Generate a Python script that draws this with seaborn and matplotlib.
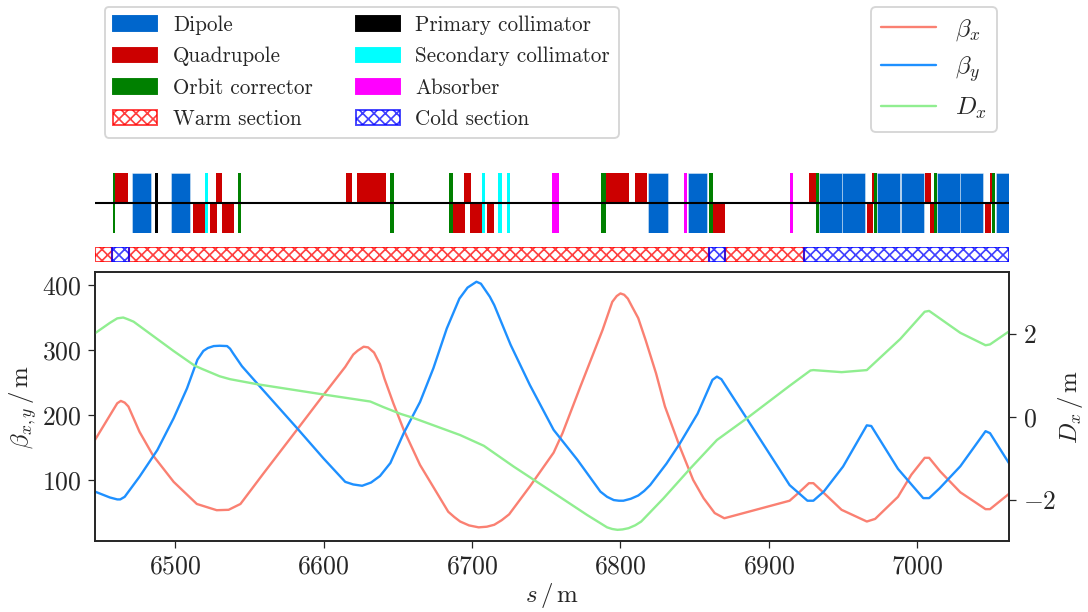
import numpy as np
import seaborn as sns
import matplotlib
matplotlib.use("Agg")
import matplotlib.pyplot as plt
from matplotlib.patches import Patch
from matplotlib.lines import Line2D

# optics
s_bx = [6446, 6461, 6463.4, 6466, 6468.5, 6476, 6485, 6499, 6514.6, 6528, 6536, 6544, 6559.5, 6582, 6600, 6614.6,
        6616, 6620, 6623, 6627, 6630, 6634, 6638, 6641, 6647, 6654, 6665, 6684, 6688, 6692, 6698, 6704.5, 6710,
        6715, 6720, 6725, 6739, 6755, 6761,
        6773, 6788, 6794.5, 6797.5, 6800, 6802.5, 6805, 6808, 6812, 6817, 6824, 6830, 6840, 6849, 6856, 6863.5, 6870, 6914,
        6920, 6927, 6930, 6937, 6949, 6966, 6971.6, 6987, 6996, 7005, 7008, 7015.5, 7029, 7046, 7049, 7062]
beta_x = [161.6, 218, 221.6, 219, 213, 174, 138, 97, 63, 53.4, 54, 63, 110, 177, 231, 274,
          279, 293, 299, 305, 304, 296, 278, 256, 218, 177, 123, 51, 43, 36, 30, 27, 28,
          31, 38, 47, 90, 142, 172,
          243.5, 331, 374, 383, 387, 385, 379, 366, 349, 315, 264, 213, 151, 100, 72, 49, 41, 68,
          80, 95, 95, 80, 54, 36, 40, 74, 108, 134, 134, 113, 81, 55, 55, 79]

s_by = [6446, 6456, 6461, 6463, 6466, 6476, 6488, 6499, 6508, 6515, 6519, 6522, 6526, 6530, 6535, 6537, 6539, 6542, 6545, 6557, 6582, 6600,
        6614.6, 6620, 6626, 6632, 6638, 6645, 6654, 6665, 6674, 6683, 6691.5, 6697, 6703, 6706, 6709, 6712, 6715, 6726, 6739, 6755,
        6771, 6786.5, 6791, 6795.5, 6799, 6802, 6807, 6812, 6816, 6820, 6831, 6840, 6852, 6862, 6865, 6868, 6885, 6914, 6926,
        6930, 6937, 6950, 6966, 6969, 6987, 7004, 7008, 7015, 7029, 7046, 7049, 7062]
beta_y = [82, 73, 70, 70, 74, 105, 146, 195, 241, 285, 298.5, 303, 306, 306.5, 306, 302, 295, 285, 275, 244, 180, 133,
          97, 93, 91, 96, 106, 126, 172, 220, 272, 333, 379, 396, 405, 402, 392, 382, 369, 308, 246, 177,
          131, 82, 74, 69, 68, 68, 71, 76, 83, 92, 125, 156, 202, 254, 259, 255, 195, 92, 68,
          68, 82, 120.6, 184, 183, 117, 72, 72, 87, 121, 175, 172, 125]

s_dx = [6446, 6456, 6461, 6465, 6468, 6472, 6499, 6513, 6518, 6524, 6530, 6537, 6555, 6600, 6631.5, 6640, 6652, 6660, 6692, 6708, 6728,
        6750.5, 6777.5, 6791, 6794.5, 6798, 6801.5, 6805.5, 6810, 6814, 6829, 6847, 6865, 6885, 6914, 6928, 6930, 6949,
        6966, 6988.5, 7005, 7008, 7029, 7046, 7049, 7062]
disp_x = [2.02, 2.27, 2.38, 2.40, 2.36, 2.30, 1.59, 1.24, 1.16, 1.07, 0.98, 0.91, 0.79, 0.54, 0.37, 0.24, 0.07, -0.02, -0.44, -0.70, -1.20,
          -1.73, -2.37, -2.67, -2.71, -2.73, -2.72, -2.69, -2.62, -2.53, -1.97, -1.25, -0.56, -0.04, 0.75, 1.12, 1.13, 1.08,
          1.13, 1.88, 2.54, 2.56, 2.03, 1.73, 1.75, 2.07]

# lattice elements (start, end in s)
dipole_start = [6471.2, 6497.5, 6818.9, 6845.4, 6934.1, 6949.6, 6972.7, 6988.7, 7013.3, 7029.1, 7052.8]
dipole_end = [6484.0, 6510.3, 6832.0, 6858.5, 6949.3, 6965.1, 6988.4, 7004.4, 7028.9, 7044.6, 7062]
quad_up_start = [6458.9, 6527.8, 6614.8, 6622.7, 6694.9, 6790.0, 6809.5, 6927.0, 6969.5, 7005.3, 7049.1]
quad_up_end = [6468.5, 6531.9, 6618.9, 6642.3, 6699.1, 6805.9, 6817.6, 6932.0, 6971.1, 7009.3, 7050.5]
quad_down_start = [6512.1, 6523.8, 6531.5, 6687.3, 6698.9, 6710.4, 6860.3, 6966.0, 7008.4, 7045.5]
quad_down_end = [6520.0, 6528.1, 6539.6, 6695.5, 6706.8, 6714.9, 6870.7, 6970.2, 7011.6, 7049.8]
corrector_start = [6458.0, 6542.3, 6644.8, 6684.6, 6787.1, 6859.9, 6931.7, 6970.9, 7011.6, 7050.5]
corrector_end = [6459.7, 6544.7, 6647.5, 6687.3, 6790.0, 6862.1, 6934.1, 6972.7, 7013.3, 7052.5]
primary_start = [6486.5]
primary_end = [6488.5]
secondary_start = [6520.0, 6706.5, 6717.8, 6723.7]
secondary_end = [6522.0, 6708.8, 6720.0, 6725.7]
absorber_start = [6754.2, 6842.7, 6914.2]
absorber_end = [6758.5, 6845.0, 6916.5]

warm_start = [6446, 6468.6, 6870.2]
warm_end = [6457.5, 6859.6, 6923.5]
cold_start = [6457.5, 6859.6, 6923.5]
cold_end = [6468.6, 6870.2, 7062]

dipole_col = "#0066cc"
quad_col = "#cc0000"
corr_col = "#008000"
warm_col = (1, 0, 0, 0.75)
cold_col = (0, 0, 1, 0.75)

sns.set_theme(style="ticks", rc={"hatch.linewidth": 0.9, "axes.linewidth": 0.9})
plt.rcParams["font.family"] = ["cmr10", "DejaVu Serif"]
plt.rcParams["mathtext.fontset"] = "cm"
plt.rcParams["axes.formatter.use_mathtext"] = True
plt.rcParams["axes.unicode_minus"] = False

W, H = 1088, 612
DPI = 136


def px_axes(fig, left, top, right, bottom):
    return fig.add_axes([left / W, 1 - bottom / H, (right - left) / W, (bottom - top) / H])


def elements(ax, start, end, color, bottom=-1, height=2, **kw):
    start = np.array(start)
    ax.bar(start, height, width=np.array(end) - start, bottom=bottom, align="edge", color=color, **kw)


fig = plt.figure(figsize=(W / DPI, H / DPI), dpi=DPI)

# lattice strip
ax_el = px_axes(fig, 95, 173, 1009.3, 233)
elements(ax_el, dipole_start, dipole_end, dipole_col, edgecolor=(1, 1, 1, 0.4), linewidth=0.5)
elements(ax_el, quad_up_start, quad_up_end, quad_col, 0, 1, linewidth=0)
elements(ax_el, quad_down_start, quad_down_end, quad_col, -1, 1, linewidth=0)
elements(ax_el, corrector_start, corrector_end, corr_col, linewidth=0)
elements(ax_el, primary_start, primary_end, "black", linewidth=0)
elements(ax_el, secondary_start, secondary_end, "cyan", linewidth=0)
elements(ax_el, absorber_start, absorber_end, "magenta", linewidth=0)
ax_el.axhline(0, color="black", lw=1.1)
ax_el.set_xlim(6446, 7062)
ax_el.set_ylim(-1, 1)
ax_el.axis("off")

# warm / cold sections
ax_sec = px_axes(fig, 95, 247, 1009.3, 262)
for a, b in zip(warm_start, warm_end):
    ax_sec.bar(a, 1, width=b - a, align="edge", facecolor="none", edgecolor=warm_col, hatch="xxxx", linewidth=1.1)
for a, b in zip(cold_start, cold_end):
    ax_sec.bar(a, 1, width=b - a, align="edge", facecolor="none", edgecolor=cold_col, hatch="xxxx", linewidth=1.1)
ax_sec.set_xlim(6446, 7062)
ax_sec.set_ylim(0, 1)
ax_sec.axis("off")

# optics
lw = 1.25
ax = px_axes(fig, 95, 272, 1009.3, 541)
sns.lineplot(x=s_bx, y=beta_x, ax=ax, color="salmon", lw=lw, estimator=None, sort=False)
sns.lineplot(x=s_by, y=beta_y, ax=ax, color="dodgerblue", lw=lw, estimator=None, sort=False)
ax.set_xlim(6446, 7062)
ax.set_ylim(6, 420)
ax.set_xticks([6500, 6600, 6700, 6800, 6900, 7000])
ax.set_yticks([100, 200, 300, 400])
ax.tick_params(labelsize=13.6, length=3.7, width=0.66)
ax.set_xlabel(r"$s\,/\,\mathrm{m}$", fontsize=13.2, labelpad=1.5)
ax.set_ylabel(r"$\beta_{x,y}\,/\,\mathrm{m}$", fontsize=13.2, labelpad=1.5)

ax2 = ax.twinx()
sns.lineplot(x=s_dx, y=disp_x, ax=ax2, color="lightgreen", lw=lw, estimator=None, sort=False)
ax2.set_ylim(-3.0, 3.5)
ax2.set_yticks([-2, 0, 2])
ax2.tick_params(labelsize=13.6, length=3.7, width=0.66)
ax2.set_ylabel(r"$D_x\,/\,\mathrm{m}$", fontsize=13.2, labelpad=0)

# legends
handles = [
    Patch(color=dipole_col, label="Dipole"),
    Patch(color=quad_col, label="Quadrupole"),
    Patch(color=corr_col, label="Orbit corrector"),
    Patch(facecolor="none", edgecolor=warm_col, hatch="xxxx", label="Warm section"),
    Patch(color="black", label="Primary collimator"),
    Patch(color="cyan", label="Secondary collimator"),
    Patch(color="magenta", label="Absorber"),
    Patch(facecolor="none", edgecolor=cold_col, hatch="xxxx", label="Cold section"),
]
fig.legend(handles=handles, ncol=2, loc="upper left", bbox_to_anchor=(105 / W, 1 - 7 / H), borderaxespad=0,
           fontsize=11.2, handlelength=2.07, columnspacing=2.03, handletextpad=0.75, labelspacing=0.56,
           borderpad=0.4, frameon=True)

line_handles = [
    Line2D([], [], color="salmon", lw=lw, label=r"$\beta_x$"),
    Line2D([], [], color="dodgerblue", lw=lw, label=r"$\beta_y$"),
    Line2D([], [], color="lightgreen", lw=lw, label=r"$D_x$"),
]
fig.legend(handles=line_handles, loc="upper left", bbox_to_anchor=(871 / W, 1 - 7 / H), borderaxespad=0,
           fontsize=13.2, handlelength=2.2, handletextpad=0.75, labelspacing=0.46, borderpad=0.42, frameon=True)

fig.savefig("out.png", dpi=DPI)
